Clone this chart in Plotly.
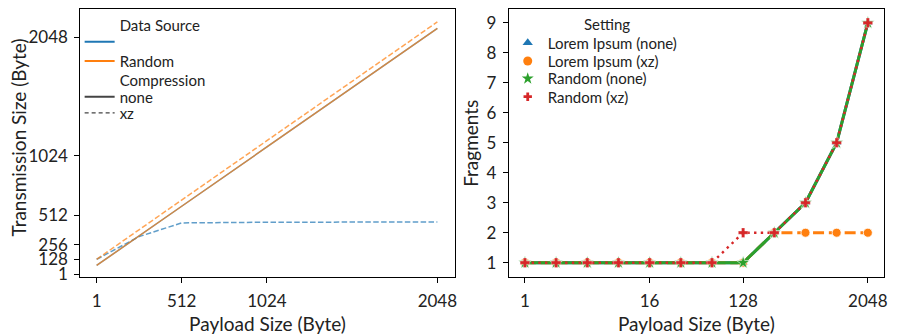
import plotly.graph_objects as go

# ---------------- data ----------------
payload = [1, 2, 4, 8, 16, 32, 64, 128, 256, 512, 1024, 2048]

# left panel: transmission size (Byte)
tx_lorem_none = [77, 78, 80, 84, 92, 108, 140, 204, 332, 588, 1100, 2124]
tx_lorem_xz = [130, 131, 132, 135, 141, 153, 178, 228, 326, 444, 450, 452]
tx_random_none = [77, 78, 80, 84, 92, 108, 140, 204, 332, 588, 1100, 2124]
tx_random_xz = [130, 131, 133, 137, 145, 161, 193, 257, 385, 641, 1154, 2180]

# right panel: fragments
fr_lorem_none = [1, 1, 1, 1, 1, 1, 1, 1, 2, 3, 5, 9]
fr_lorem_xz = [1, 1, 1, 1, 1, 1, 1, 1, 2, 2, 2, 2]
fr_random_none = [1, 1, 1, 1, 1, 1, 1, 1, 2, 3, 5, 9]
fr_random_xz = [1, 1, 1, 1, 1, 1, 1, 2, 2, 3, 5, 9]

left_xticks = [1, 512, 1024, 2048]
left_yticks = [1, 128, 256, 512, 1024, 2048]
right_xticks = [1, 16, 128, 2048]
right_yticks = [1, 2, 3, 4, 5, 6, 7, 8, 9]

# ---------------- style ----------------
FONT = "Lato"
TXT = "#222222"
BLUE = "#1f77b4"
ORANGE = "#ff7f0e"
GREEN = "#2ca02c"
RED = "#d62728"
W, H = 898, 336
TICK_SIZE = 17
TITLE_SIZE = 19
LEG_SIZE = 15

def px_x(p):
    return p / W

def px_y(p):
    return 1 - p / H

fig = go.Figure()

# ---- left panel lines ----
thin = 1.5
dash_thin = "5.5px,2.4px"
fig.add_trace(go.Scatter(x=payload, y=tx_lorem_none, mode="lines",
                         line=dict(color=BLUE, width=thin), opacity=0.7,
                         xaxis="x", yaxis="y", showlegend=False))
fig.add_trace(go.Scatter(x=payload, y=tx_lorem_xz, mode="lines",
                         line=dict(color=BLUE, width=thin, dash=dash_thin), opacity=0.7,
                         xaxis="x", yaxis="y", showlegend=False))
fig.add_trace(go.Scatter(x=payload, y=tx_random_none, mode="lines",
                         line=dict(color=ORANGE, width=thin), opacity=0.7,
                         xaxis="x", yaxis="y", showlegend=False))
fig.add_trace(go.Scatter(x=payload, y=tx_random_xz, mode="lines",
                         line=dict(color=ORANGE, width=thin, dash=dash_thin), opacity=0.7,
                         xaxis="x", yaxis="y", showlegend=False))

# ---- right panel lines ----
lw = 3
fig.add_trace(go.Scatter(x=payload, y=fr_lorem_none, mode="lines+markers",
                         line=dict(color=BLUE, width=lw),
                         marker=dict(symbol="triangle-up", size=9, color=BLUE,
                                     line=dict(color="white", width=0.8)),
                         xaxis="x2", yaxis="y2", showlegend=False))
fig.add_trace(go.Scatter(x=payload, y=fr_lorem_xz, mode="lines+markers",
                         line=dict(color=ORANGE, width=lw, dash="11px,4.8px"),
                         marker=dict(symbol="circle", size=9, color=ORANGE,
                                     line=dict(color="white", width=0.8)),
                         xaxis="x2", yaxis="y2", showlegend=False))
fig.add_trace(go.Scatter(x=payload, y=fr_random_none, mode="lines+markers",
                         line=dict(color=GREEN, width=lw),
                         marker=dict(symbol="star", size=10, color=GREEN,
                                     line=dict(color="white", width=0.6)),
                         xaxis="x2", yaxis="y2", showlegend=False))
fig.add_trace(go.Scatter(x=payload, y=fr_random_xz, mode="lines+markers",
                         line=dict(color=RED, width=2.4, dash="2.4px,4.3px"),
                         marker=dict(symbol="cross", size=8, color=RED,
                                     line=dict(color="white", width=0.3)),
                         xaxis="x2", yaxis="y2", showlegend=False))

# ---------------- legends (one row per legend box, so rows sit tight) ----------------
legend_boxes = {}

def add_legend_row(key, x_px, y_px):
    legend_boxes[key] = dict(x=px_x(x_px), y=px_y(y_px), xanchor="left", yanchor="middle",
                             bgcolor="rgba(0,0,0,0)", borderwidth=0,
                             font=dict(family=FONT, size=LEG_SIZE, color=TXT),
                             itemwidth=30)

left_rows = [
    ("Data Source", "rgba(0,0,0,0)", None, 2, 25.5),
    (" ", BLUE, None, 2, 43),
    ("Random", ORANGE, None, 2, 62.5),
    ("Compression", "rgba(0,0,0,0)", None, 2, 82),
    ("none", "#444444", None, 2, 99),
    ("xz", "#444444", "4px,3px", 1.2, 115.5),
]
n = 1
for name, color, dash, width, ypx in left_rows:
    key = "legend" if n == 1 else f"legend{n}"
    add_legend_row(key, 80, ypx)
    fig.add_trace(go.Scatter(x=[None], y=[None], mode="lines", name=name,
                             line=dict(color=color, width=width, dash=dash),
                             xaxis="x", yaxis="y", legend=key, showlegend=True))
    n += 1

right_rows = [
    ("Lorem Ipsum (none)", "triangle-up", BLUE, 9, 44),
    ("Lorem Ipsum (xz)", "circle", ORANGE, 9, 62.5),
    ("Random (none)", "star", GREEN, 9, 80.5),
    ("Random (xz)", "cross", RED, 7, 99),
]
for name, symbol, color, size, ypx in right_rows:
    key = f"legend{n}"
    add_legend_row(key, 510, ypx)
    fig.add_trace(go.Scatter(x=[None], y=[None], mode="markers", name=name,
                             marker=dict(symbol=symbol, size=size, color=color),
                             xaxis="x2", yaxis="y2", legend=key, showlegend=True))
    n += 1

# ---------------- axes ----------------
axis_common = dict(showline=True, linecolor="black", linewidth=1, mirror=True,
                   ticks="outside", ticklen=5, tickwidth=1, tickcolor="black",
                   showgrid=False, zeroline=False,
                   tickfont=dict(family=FONT, size=TICK_SIZE, color=TXT))

fig.update_layout(
    width=W, height=H,
    margin=dict(l=0, r=0, t=0, b=0),
    paper_bgcolor="white", plot_bgcolor="white",
    font=dict(family=FONT, color=TXT),
    xaxis=dict(domain=[px_x(80.7), px_x(456.7)], range=[-97, 2152],
               tickmode="array", tickvals=left_xticks,
               ticktext=[str(v) for v in left_xticks], ticklabelstandoff=3,
               title=dict(text="Payload Size (Byte)",
                          font=dict(family=FONT, size=TITLE_SIZE, color=TXT), standoff=8),
               anchor="y", **axis_common),
    yaxis=dict(domain=[px_y(283), px_y(9.5)], range=[-24, 2289],
               tickmode="array", tickvals=left_yticks,
               ticktext=[str(v) for v in left_yticks], ticklabelstandoff=3,
               anchor="x", **axis_common),
    xaxis2=dict(domain=[px_x(511), px_x(888)], type="log",
                range=[-0.52 * 0.30103, 11.52 * 0.30103],
                tickmode="array", tickvals=right_xticks,
                ticktext=[str(v) for v in right_xticks], ticklabelstandoff=3,
                title=dict(text="Payload Size (Byte)",
                           font=dict(family=FONT, size=TITLE_SIZE, color=TXT), standoff=8),
                anchor="y2", **axis_common),
    yaxis2=dict(domain=[px_y(283), px_y(9.5)], range=[0.52, 9.45],
                tickmode="array", tickvals=right_yticks,
                ticktext=[str(v) for v in right_yticks], ticklabelstandoff=3,
                anchor="x2", **axis_common),
    annotations=[
        dict(text="Transmission Size (Byte)", textangle=-90, xref="paper", yref="paper",
             x=px_x(18.5), y=px_y(140), xanchor="center", yanchor="middle", showarrow=False,
             font=dict(family=FONT, size=TITLE_SIZE, color=TXT)),
        dict(text="Fragments", textangle=-90, xref="paper", yref="paper",
             x=px_x(473), y=px_y(146), xanchor="center", yanchor="middle", showarrow=False,
             font=dict(family=FONT, size=TITLE_SIZE, color=TXT)),
        dict(text="Setting", xref="paper", yref="paper",
             x=px_x(610), y=px_y(25), xanchor="center", yanchor="middle", showarrow=False,
             font=dict(family=FONT, size=LEG_SIZE, color=TXT)),
    ],
)
fig.update_layout(**legend_boxes)

fig.write_html("out.html")
